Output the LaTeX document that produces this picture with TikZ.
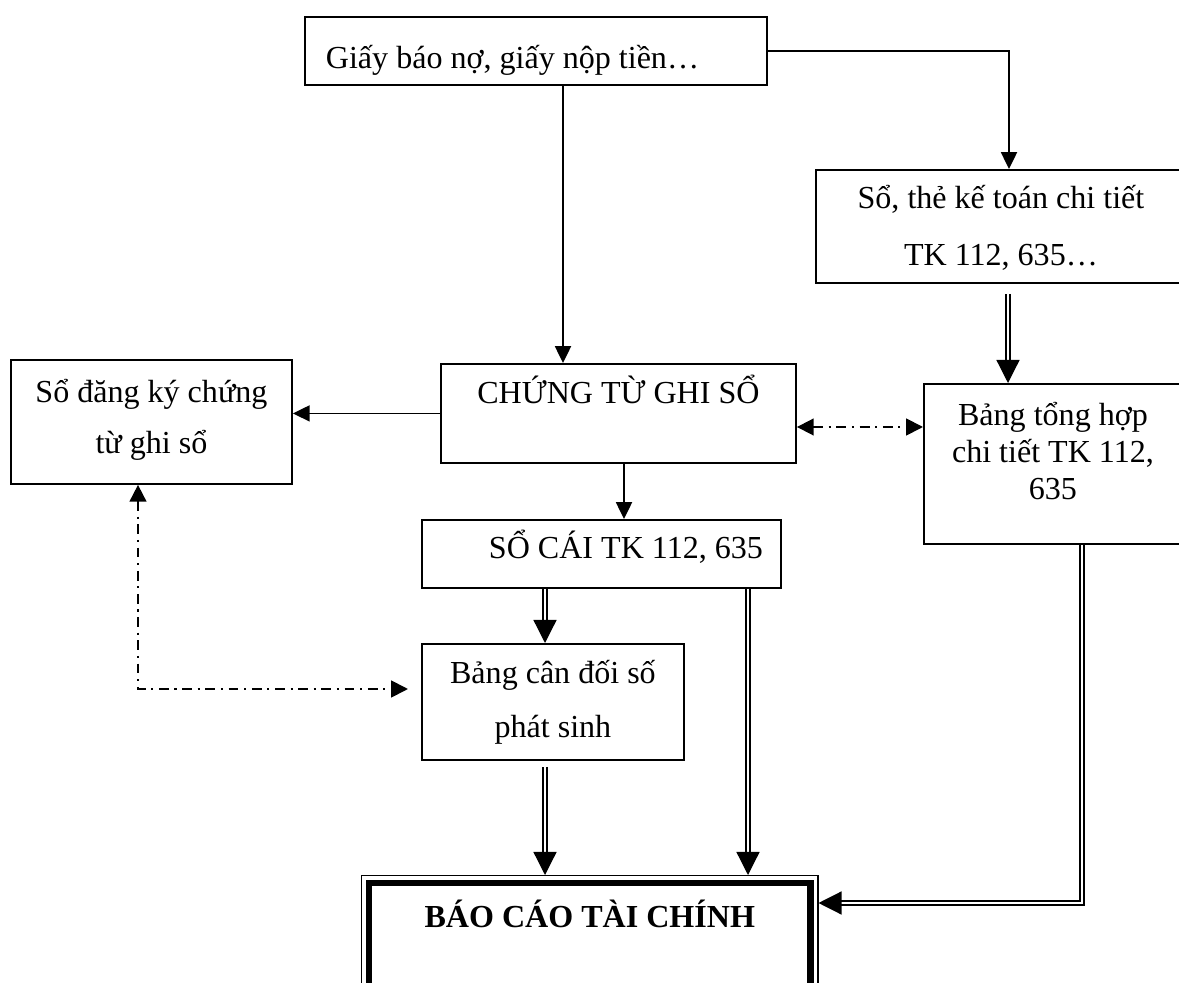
\documentclass[tikz,border=0pt]{standalone}
\usepackage{fontspec}
\setmainfont{Liberation Serif}
\usetikzlibrary{arrows.meta,positioning,calc}

\begin{document}
\begin{tikzpicture}[
  x=0.025cm, y=-0.025cm,
  font=\fontsize{22.8}{38.4}\selectfont,
  box/.style={draw, line width=1.3pt, inner sep=0pt, align=flush center, anchor=north west},
  ls/.style={font=\fontsize{22.8}{#1}\selectfont},
  arr/.style={-{Triangle[length=0.42cm, width=0.4cm]}, line width=1.3pt},
  dbl/.style={double, line width=0.9pt, double distance=1.9pt, -{Triangle[length=0.575cm, width=0.575cm]}},
  dashdot/.style={line width=1.3pt, dash pattern=on 7pt off 4pt on 1.5pt off 4pt,
    {Triangle[length=0.42cm, width=0.42cm]}-{Triangle[length=0.42cm, width=0.42cm]}}
]
\useasboundingbox (0,0) rectangle (1179,983);
\clip (0,0) rectangle (1179,983);
\fill[white] (0,0) rectangle (1179,983);
% boxes
\node[box, align=flush left, text width=10.5cm, minimum width=11.55cm, text height=1.3cm, text depth=0.4cm] (giay) at (304,16) {Giấy báo nợ, giấy nộp tiền…};
\node[box, ls=40.5, text width=9.25cm, text height=0.975cm, text depth=1.85cm] (sothe) at (815,169) {Sổ, thẻ kế toán chi tiết\\TK 112, 635…};
\node[box, ls=36.3, text width=7.025cm, text height=1.075cm, text depth=2.025cm] (sodk) at (10,359) {Sổ đăng ký chứng\\từ ghi sổ};
\node[box, text width=8.875cm, text height=1.0cm, text depth=1.475cm] (ctgs) at (440,363) {CHỨNG TỪ GHI SỔ};
\node[box, ls=26.3, text width=6.45cm, text height=1.05cm, text depth=2.95cm] (bangth) at (923,383) {Bảng tổng hợp\\chi tiết TK 112,\\635};
\node[box, align=flush right, text width=8.075cm, minimum width=8.975cm, text height=0.975cm, text depth=0.725cm] (socai) at (421,519) {SỔ CÁI TK 112, 635};
\node[box, ls=38.4, text width=6.55cm, text height=1.0cm, text depth=1.9cm] (bcd) at (421,643) {Bảng cân đối số\\phát sinh};
\node[box, line width=1pt, text width=11.4cm, text height=1.3cm, text depth=2cm, font=\fontsize{22.8}{38.4}\selectfont\bfseries] (bctc) at (361,875) {BÁO CÁO TÀI CHÍNH};
\draw[line width=4.6pt] ($(bctc.north west)+(8,8)$) rectangle ($(bctc.south east)+(-8,-8)$);
% helper points
\coordinate (xa) at (563,0);
\coordinate (xb) at (1009,0);
\coordinate (xc) at (1008,0);
\coordinate (xd) at (624,0);
\coordinate (xe) at (545,0);
\coordinate (xf) at (748,0);
\coordinate (yd) at (0,427);
\coordinate (xg) at (1082,903);
\coordinate (xh) at (138,689);
% connectors
\draw[arr] (xa |- giay.south) -- (xa |- ctgs.north);
\draw[arr] (giay.east) -| (xb |- sothe.north);
\draw[dbl, shorten <=0.25cm] (xc |- sothe.south) -- (xc |- bangth.north);
\draw[arr] (ctgs.west) -- (ctgs.west -| sodk.east);
\draw[dashdot] (yd -| ctgs.east) -- (yd -| bangth.west);
\draw[arr] (xd |- ctgs.south) -- (xd |- socai.north);
\draw[dbl] (xe |- socai.south) -- (xe |- bcd.north);
\draw[dbl] (xf |- socai.south) -- (xf |- bctc.north);
\draw[dbl, shorten <=0.15cm] (xe |- bcd.south) -- (xe |- bctc.north);
\draw[dbl] (xg |- bangth.south) -- (xg) -- (xg -| bctc.east);
\draw[dashdot, shorten >=0.325cm] (xh |- sodk.south) -- (xh) -- (xh -| bcd.west);
\end{tikzpicture}
\end{document}
